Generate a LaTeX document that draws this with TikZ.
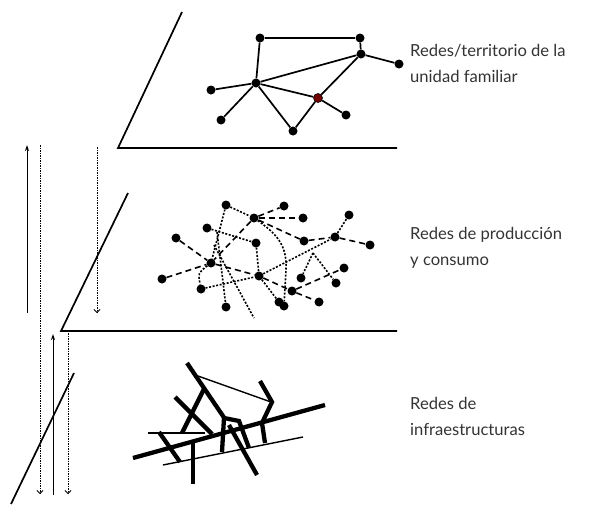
\documentclass[tikz,border=0pt]{standalone}
\usepackage{fontspec}
\setmainfont{Lato}
\usetikzlibrary{arrows.meta}
\colorlet{labelcolor}{black!80}
\colorlet{hubcolor}{red!45!black}

\begin{document}
\begin{tikzpicture}[x=1pt, y=-1pt,
  plane/.style={line width=1.7pt},
  dot/.style={circle, fill=black, inner sep=0pt, minimum size=9pt},
  homelink/.style={line width=1.7pt},
  dotlink/.style={line width=1.6pt, dash pattern=on 2pt off 1.6pt},
  dashlink/.style={line width=1.6pt, dash pattern=on 6pt off 4pt},
  road/.style={line width=4.3pt},
  lane/.style={line width=1.4pt},
  flowdown/.style={line width=0.8pt, dash pattern=on 1.5pt off 1pt,
    -{Straight Barb[length=3pt, width=6pt]}},
  flowup/.style={line width=0.9pt, -{Stealth[length=6pt, width=4pt]}},
  caption/.style={anchor=north west, inner sep=0pt, align=left,
    font=\fontsize{16.6}{26}\selectfont, text=labelcolor}]

  \useasboundingbox (0,0) rectangle (600,504);

  % three planes
  \draw[plane] (182,12) -- (118,148) -- (397,148);
  \draw[plane] (128,193) -- (61,331) -- (397,331);
  \draw[plane] (74,373) -- (11,504);

  % flows between the levels
  \draw[flowup] (27,313) -- (27,145);
  \draw[flowdown] (40,145) -- (40,494);
  \draw[flowdown] (97,147) -- (97,313);
  \draw[flowup] (53,495) -- (53,334);
  \draw[flowdown] (68,333) -- (68,494);

  % household network
  \node[dot] (ha) at (260,38) {};
  \node[dot] (hb) at (360,38) {};
  \node[dot] (hc) at (361,54) {};
  \node[dot] (hd) at (399,64) {};
  \node[dot] (he) at (256,83) {};
  \node[dot] (hf) at (211,90) {};
  \node[dot, fill=hubcolor, draw=black, line width=0.6pt] (hg) at (318,98) {};
  \node[dot] (hh) at (346,115) {};
  \node[dot] (hi) at (221,120) {};
  \node[dot] (hj) at (293,131) {};
  \foreach \a/\b in {ha/hb, hb/hc, hc/hd, ha/he, he/hc, he/hf, he/hi,
                     he/hj, he/hg, hj/hg, hg/hc, hg/hh}
    \draw[homelink] (\a) -- (\b);

  % production and consumption network
  \node[dot] (p1) at (226,205) {};
  \node[dot] (p2) at (284,206) {};
  \node[dot] (p3) at (254,218) {};
  \node[dot] (p4) at (303,218) {};
  \node[dot] (p5) at (349,215) {};
  \node[dot] (p6) at (207,228) {};
  \node[dot] (p7) at (176,238) {};
  \node[dot] (p8) at (256,243) {};
  \node[dot] (p9) at (304,241) {};
  \node[dot] (p10) at (335,237) {};
  \node[dot] (p11) at (370,245) {};
  \node[dot] (p12) at (211,263) {};
  \node[dot] (p13) at (162,279) {};
  \node[dot] (p14) at (259,276) {};
  \node[dot] (p15) at (344,268) {};
  \node[dot] (p16) at (301,278) {};
  \node[dot] (p17) at (336,283) {};
  \node[dot] (p18) at (201,289) {};
  \node[dot] (p19) at (292,291) {};
  \node[dot] (p20) at (319,302) {};
  \node[dot] (p21) at (279,302) {};
  \node[dot] (p22) at (284,306) {};
  \node[dot] (p23) at (226,307) {};
  \coordinate (fork) at (313,253);
  \coordinate (split) at (217,232);
  \coordinate (branch) at (214,245);
  \coordinate (loose) at (254,318);

  \foreach \a/\b in {p3/p2, p3/p4, p3/p9, p3/p12, p7/p12, p13/p12, p12/p14,
                     p14/p19, p19/p20, p9/p10, p10/p11, p19/p15}
    \draw[dashlink] (\a) -- (\b);
  \foreach \a/\b in {p1/p3, p6/p8, p8/p14, p14/p21, p14/p10, p18/p14,
                     p10/p5, fork/p16, fork/p17, split/p23, branch/loose}
    \draw[dotlink] (\a) -- (\b);
  \draw[dotlink] (p1) -- (p12) .. controls (198,273) .. (p18);
  \draw[dotlink] (p3) .. controls (280,236) and (287,248) .. (286,270) -- (p22);

  % infrastructure network
  \draw[road] (133,458) -- (325,405);
  \draw[lane] (163,465) -- (303,437);
  \draw[lane] (148,433) -- (205,433);
  \draw[lane] (198,376) -- (271,402);
  \draw[road] (187,363) -- (225,419);
  \draw[road] (204,389) -- (182,433);
  \draw[road] (175,397) -- (212,434);
  \draw[road] (159,432) -- (180,462);
  \draw[road] (193,441) -- (193,484);
  \draw[road] (222,452) -- (224,418) -- (239,421) -- (249,448);
  \draw[road] (229,425) -- (257,475);
  \draw[road] (260,381) -- (272,402) -- (262,423) -- (265,443);

  % captions
  \node[caption] (home) at (410,44) {Redes/territorio de la\\unidad familiar};
  \node[caption] (prod) at (410,227) {Redes de producción\\y consumo};
  \node[caption] (infra) at (410,397) {Redes de\\infraestructuras};

\end{tikzpicture}
\end{document}
